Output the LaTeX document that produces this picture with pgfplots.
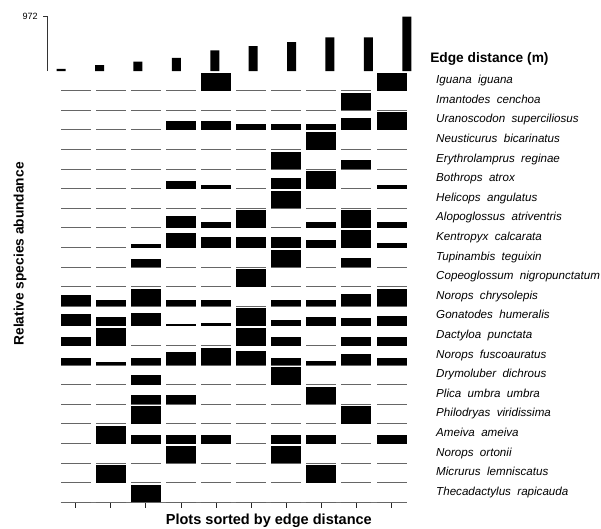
\documentclass[border=0pt]{standalone}
\usepackage{pgfplots}
\pgfplotsset{compat=1.18}
\usepackage{pgfplotstable}
\usepackage{fontspec}
\setmainfont{Liberation Sans}
\newcommand{\sgap}{\hspace{0.55em}}

% bar heights in px (row spacing = 19.6 px); r = row position (0 = bottom)
\pgfplotstableread{
r  c1   c2   c3   c4   c5   c6   c7   c8   c9   c10
21 0    0    0    0    17.6 0    0    0    0    17.6
20 0    0    0    0    0    0    0    0    17.6 0
19 0    0    0    9    9    5.7  5.7  5.7  12.3 17.6
18 0    0    0    0    0    0    0    17.6 0    0
17 0    0    0    0    0    0    17.6 0    9    0
16 0    0    0    7.3  4    0    10.7 17.6 0    4
15 0    0    0    0    0    0    17.6 0    0    0
14 0    0    0    12   5.7  17.6 0    6    17.6 6
13 0    0    3.7  14.3 10.5 11   11   7.7  17.6 4.3
12 0    0    8.3  0    0    0    17.6 0    9    0
11 0    0    0    0    0    17.6 0    0    0    0
10 11.7 6    17.6 6    6.5  0    6.7  6.7  12.3 17.6
9  11.7 9.3  13   2.3  3.3  17.6 5.7  9.3  8.3  10
8  9    17.6 0    0    0    17.6 9    0    9    9
7  6.7  3.3  6.7  13.3 17.4 14   7.3  4    10.7 7.3
6  0    0    9.3  0    0    0    17.6 0    0    0
5  0    0    9    9    0    0    0    17.6 0    0
4  0    0    17.6 0    0    0    0    0    17.6 0
3  0    17.6 8.3  8.3  8.3  0    8.3  8.3  0    8.3
2  0    0    0    17.6 0    0    17.6 0    0    0
1  0    17.6 0    0    0    0    0    17.6 0    0
0  0    0    17.6 0    0    0    0    0    0    0
}\abund

\begin{document}
\begin{tikzpicture}
\path[use as bounding box] (0pt,0pt) rectangle (450.75pt,-396.75pt);

% ---- top: edge distance bars ----
\begin{axis}[
  at={(35.775pt,-53.25pt)}, anchor=south west,
  scale only axis, x=28.8pt, height=40.725pt,
  xmin=0.6484, xmax=10.5, ymin=0, ymax=972,
  axis x line=none, axis y line*=left,
  ytick={972}, yticklabels={972},
  tick align=outside, major tick length=3.3pt,
  yticklabel style={font=\fontsize{6.8}{8}\selectfont, inner sep=0pt, xshift=-4pt},
  axis line style={black!80, line width=0.6pt},
  tick style={black!80, line width=0.6pt},
  clip=false]
\addplot[ybar, bar width=6.75pt, fill=black, draw=none]
  coordinates {(1,36) (2,107) (3,167) (4,233) (5,370) (6,447) (7,519) (8,602) (9,602) (10,972)};
\end{axis}

\node[anchor=base west, inner sep=0pt, font=\bfseries\fontsize{10.3}{12}\selectfont] at (322.5pt,-46.95pt) {Edge distance (m)};

% ---- main grid ----
\begin{axis}[
  at={(45.525pt,-376.725pt)}, anchor=south west,
  scale only axis, x=26.325pt, y=14.7pt,
  xmin=0.5726, xmax=10.44, ymin=0, ymax=22,
  axis x line*=bottom, axis y line*=right,
  y axis line style={draw=none},
  x axis line style={black!55, line width=0.75pt},
  xtick={1,2,3,4,5,6,7,8,9,10}, xticklabel=\empty,
  tick align=outside, major tick length=4.2pt,
  x tick style={black!85, line width=0.7pt},
  y tick style={draw=none},
  ytick={0.36,1.36,2.36,3.36,4.36,5.36,6.36,7.36,8.36,9.36,10.36,11.36,12.36,13.36,14.36,15.36,16.36,17.36,18.36,19.36,20.36,21.36},
  yticklabels={
    Thecadactylus\sgap rapicauda,
    Micrurus\sgap lemniscatus,
    Norops\sgap ortonii,
    Ameiva\sgap ameiva,
    Philodryas\sgap viridissima,
    Plica\sgap umbra\sgap umbra,
    Drymoluber\sgap dichrous,
    Norops\sgap fuscoauratus,
    Dactyloa\sgap punctata,
    Gonatodes\sgap humeralis,
    Norops\sgap chrysolepis,
    Copeoglossum\sgap nigropunctatum,
    Tupinambis\sgap teguixin,
    Kentropyx\sgap calcarata,
    Alopoglossus\sgap atriventris,
    Helicops\sgap angulatus,
    Bothrops\sgap atrox,
    Erythrolamprus\sgap reginae,
    Neusticurus\sgap bicarinatus,
    Uranoscodon\sgap superciliosus,
    Imantodes\sgap cenchoa,
    Iguana\sgap iguana},
  yticklabel style={font=\fontsize{8.7}{10}\selectfont\itshape, anchor=base west, inner sep=0pt, xshift=17.5pt},
  xlabel={Plots sorted by edge distance},
  xlabel style={at={(axis description cs:0.601,-0.051)}, anchor=base, inner sep=0pt, font=\bfseries\fontsize{10.9}{12}\selectfont},
  ylabel={Relative species abundance},
  ylabel style={at={(axis description cs:-0.1175,0.576)}, anchor=center, inner sep=0pt, font=\bfseries\fontsize{10.3}{12}\selectfont},
  clip=false]
\pgfplotsinvokeforeach{1,...,10}{
  \addplot[draw=none, mark=none,
    error bars/.cd, x dir=both, x fixed=0.4274, error mark=none,
    error bar style={draw=black!60, line width=0.75pt}]
    table[x expr=#1, y=r] \abund;
}
\pgfplotsinvokeforeach{1,...,10}{
  \addplot[draw=none, mark=none,
    error bars/.cd, y dir=plus, y explicit, error mark=none,
    error bar style={draw=black, line width=22.5pt}]
    table[x expr=#1, y=r, y error expr=\thisrow{c#1}/19.6] \abund;
}
\end{axis}
\end{tikzpicture}
\end{document}
